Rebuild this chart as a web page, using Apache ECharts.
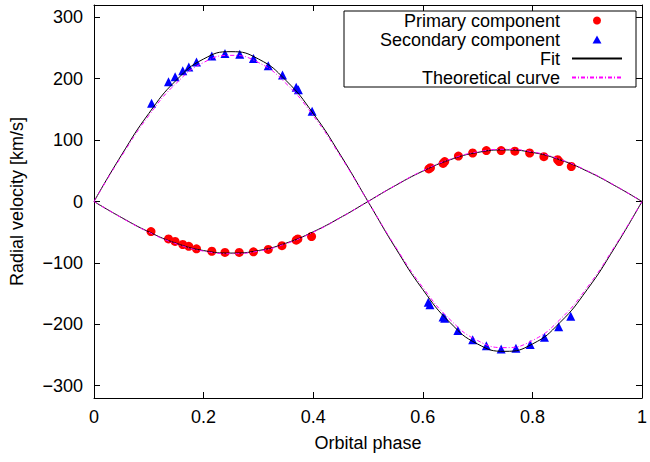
<!DOCTYPE html>
<html>
<head>
<meta charset="utf-8">
<script src="https://cdn.jsdelivr.net/npm/echarts@6/dist/echarts.min.js"></script>
<style>
  html, body { margin: 0; padding: 0; background: #fff; }
  #chart { width: 650px; height: 462px; }
</style>
</head>
<body>
<div id="chart"></div>
<script>
// observed points: [orbital phase, radial velocity km/s]
var primaryPts = [
  [0.104, -49], [0.136, -61], [0.148, -65], [0.162, -70], [0.173, -73], [0.187, -77],
  [0.215, -81], [0.239, -83], [0.265, -83], [0.291, -82], [0.318, -78], [0.343, -72],
  [0.369, -63], [0.372, -61], [0.397, -57],
  [0.611, 53], [0.614, 55], [0.637, 62], [0.640, 65], [0.665, 74], [0.691, 79],
  [0.716, 83], [0.743, 83], [0.768, 82], [0.795, 79], [0.821, 73], [0.846, 68],
  [0.849, 65], [0.871, 57]
];
var secondaryPts = [
  [0.105, 160], [0.136, 195], [0.148, 203], [0.162, 213], [0.173, 219], [0.187, 227],
  [0.215, 237], [0.239, 241], [0.266, 240], [0.291, 233], [0.318, 221], [0.344, 206],
  [0.369, 186], [0.373, 182], [0.398, 147],
  [0.610, -164], [0.613, -168], [0.637, -188], [0.640, -190], [0.664, -210], [0.691, -225],
  [0.716, -235], [0.743, -240], [0.770, -239], [0.796, -233], [0.822, -221], [0.848, -204],
  [0.870, -187]
];

// curves every 0.05 in phase
var curvePhase = [0, 0.05, 0.1, 0.15, 0.2, 0.25, 0.3, 0.35, 0.4, 0.45, 0.5,
                  0.55, 0.6, 0.65, 0.7, 0.75, 0.8, 0.85, 0.9, 0.95, 1];
var fitPrimary = [0, -26, -49.4, -68, -79.9, -84, -79.9, -68, -49.4, -26, 0,
                  26, 49.4, 68, 79.9, 84, 79.9, 68, 49.4, 26, 0];
var fitSecondary = [0, 75.4, 143.4, 197.4, 232.1, 244, 232.1, 197.4, 143.4, 75.4, 0,
                    -75.4, -143.4, -197.4, -232.1, -244, -232.1, -197.4, -143.4, -75.4, 0];
var theoPrimary = [0, -26.3, -50, -68.8, -80.8, -85, -80.8, -68.8, -50, -26.3, 0,
                   26.3, 50, 68.8, 80.8, 85, 80.8, 68.8, 50, 26.3, 0];
var theoSecondary = [0, 73.5, 139.9, 192.5, 226.4, 238, 226.4, 192.5, 139.9, 73.5, 0,
                     -73.5, -139.9, -192.5, -226.4, -238, -226.4, -192.5, -139.9, -73.5, 0];

var yTicks = [-300, -200, -100, 0, 100, 200, 300];

function pairs(xs, ys) {
  var out = [];
  for (var i = 0; i < xs.length; i++) out.push([xs[i], ys[i]]);
  return out;
}

var font = '"Liberation Sans", Arial, Helvetica, sans-serif';
var fitStyle = { color: '#000', width: 1, type: 'solid' };
var theoStyle = { color: '#ff00ff', width: 1, type: [4, 2, 1, 2] };
// line entries in the legend: only the line, no marker
var noMarker = { color: 'rgba(0,0,0,0)', borderWidth: 0 };

var myChart = echarts.init(document.getElementById('chart'), null, { renderer: 'svg' });

var option = {
  animation: false,
  backgroundColor: '#fff',
  textStyle: { fontFamily: font },
  grid: { left: 92, right: 5, top: 5, bottom: 64 },
  legend: {
    data: [
      { name: 'Primary component', icon: 'circle' },
      { name: 'Secondary component', icon: 'path://M5,0L10,9L0,9Z' },
      { name: 'Fit', itemStyle: noMarker },
      { name: 'Theoretical curve', itemStyle: noMarker }
    ],
    orient: 'vertical',
    align: 'right',
    left: 344,
    top: 11,
    padding: [0, 13, 0, 6],
    itemGap: 0,
    itemWidth: 50,
    itemHeight: 8,
    borderColor: '#000',
    borderWidth: 1,
    textStyle: {
      fontFamily: font, fontSize: 18, color: '#000',
      width: 210, align: 'right', lineHeight: 19, padding: [0, 7, 0, 0]
    }
  },
  xAxis: [{
    type: 'value', min: 0, max: 1, interval: 0.2,
    name: 'Orbital phase', nameLocation: 'middle', nameGap: 36,
    nameTextStyle: { fontFamily: font, fontSize: 18, color: '#000' },
    axisLine: { show: true, onZero: false, lineStyle: { color: '#000', width: 1 } },
    axisTick: { inside: true, length: 6, lineStyle: { color: '#000' } },
    axisLabel: { fontFamily: font, fontSize: 18, color: '#000', margin: 10 },
    splitLine: { show: false }
  }, {
    type: 'value', min: 0, max: 1, interval: 0.2, position: 'top',
    axisLine: { show: true, onZero: false, lineStyle: { color: '#000', width: 1 } },
    axisTick: { inside: true, length: 6, lineStyle: { color: '#000' } },
    axisLabel: { show: false },
    splitLine: { show: false }
  }],
  yAxis: [{
    type: 'value', min: -320, max: 320,
    name: 'Radial velocity [km/s]', nameLocation: 'middle', nameGap: 68,
    nameTextStyle: { fontFamily: font, fontSize: 18, color: '#000' },
    axisLine: { show: true, onZero: false, lineStyle: { color: '#000', width: 1 } },
    axisTick: { inside: true, length: 6, customValues: yTicks, lineStyle: { color: '#000' } },
    axisLabel: {
      fontFamily: font, fontSize: 18, color: '#000', margin: 11, customValues: yTicks,
      formatter: function (v) { return v < 0 ? '\u2212' + (-v) : '' + v; }
    },
    splitLine: { show: false }
  }, {
    type: 'value', min: -320, max: 320, position: 'right',
    axisLine: { show: true, onZero: false, lineStyle: { color: '#000', width: 1 } },
    axisTick: { inside: true, length: 6, customValues: yTicks, lineStyle: { color: '#000' } },
    axisLabel: { show: false },
    splitLine: { show: false }
  }],
  series: [
    {
      name: 'Primary component', type: 'scatter', data: primaryPts,
      symbol: 'circle', symbolSize: 9, itemStyle: { color: '#ff0000', opacity: 1 }
    },
    {
      name: 'Secondary component', type: 'scatter', data: secondaryPts,
      symbol: 'triangle', symbolSize: 9, itemStyle: { color: '#0000ff', opacity: 1 }
    },
    {
      name: 'Fit', type: 'line', data: pairs(curvePhase, fitPrimary),
      smooth: true, symbol: 'none', lineStyle: fitStyle, itemStyle: { color: '#000' }
    },
    {
      name: 'Fit', type: 'line', data: pairs(curvePhase, fitSecondary),
      smooth: true, symbol: 'none', lineStyle: fitStyle, itemStyle: { color: '#000' }
    },
    {
      name: 'Theoretical curve', type: 'line', data: pairs(curvePhase, theoPrimary),
      smooth: true, symbol: 'none', lineStyle: theoStyle, itemStyle: { color: '#ff00ff' }
    },
    {
      name: 'Theoretical curve', type: 'line', data: pairs(curvePhase, theoSecondary),
      smooth: true, symbol: 'none', lineStyle: theoStyle, itemStyle: { color: '#ff00ff' }
    }
  ]
};

myChart.setOption(option);
</script>
</body>
</html>
